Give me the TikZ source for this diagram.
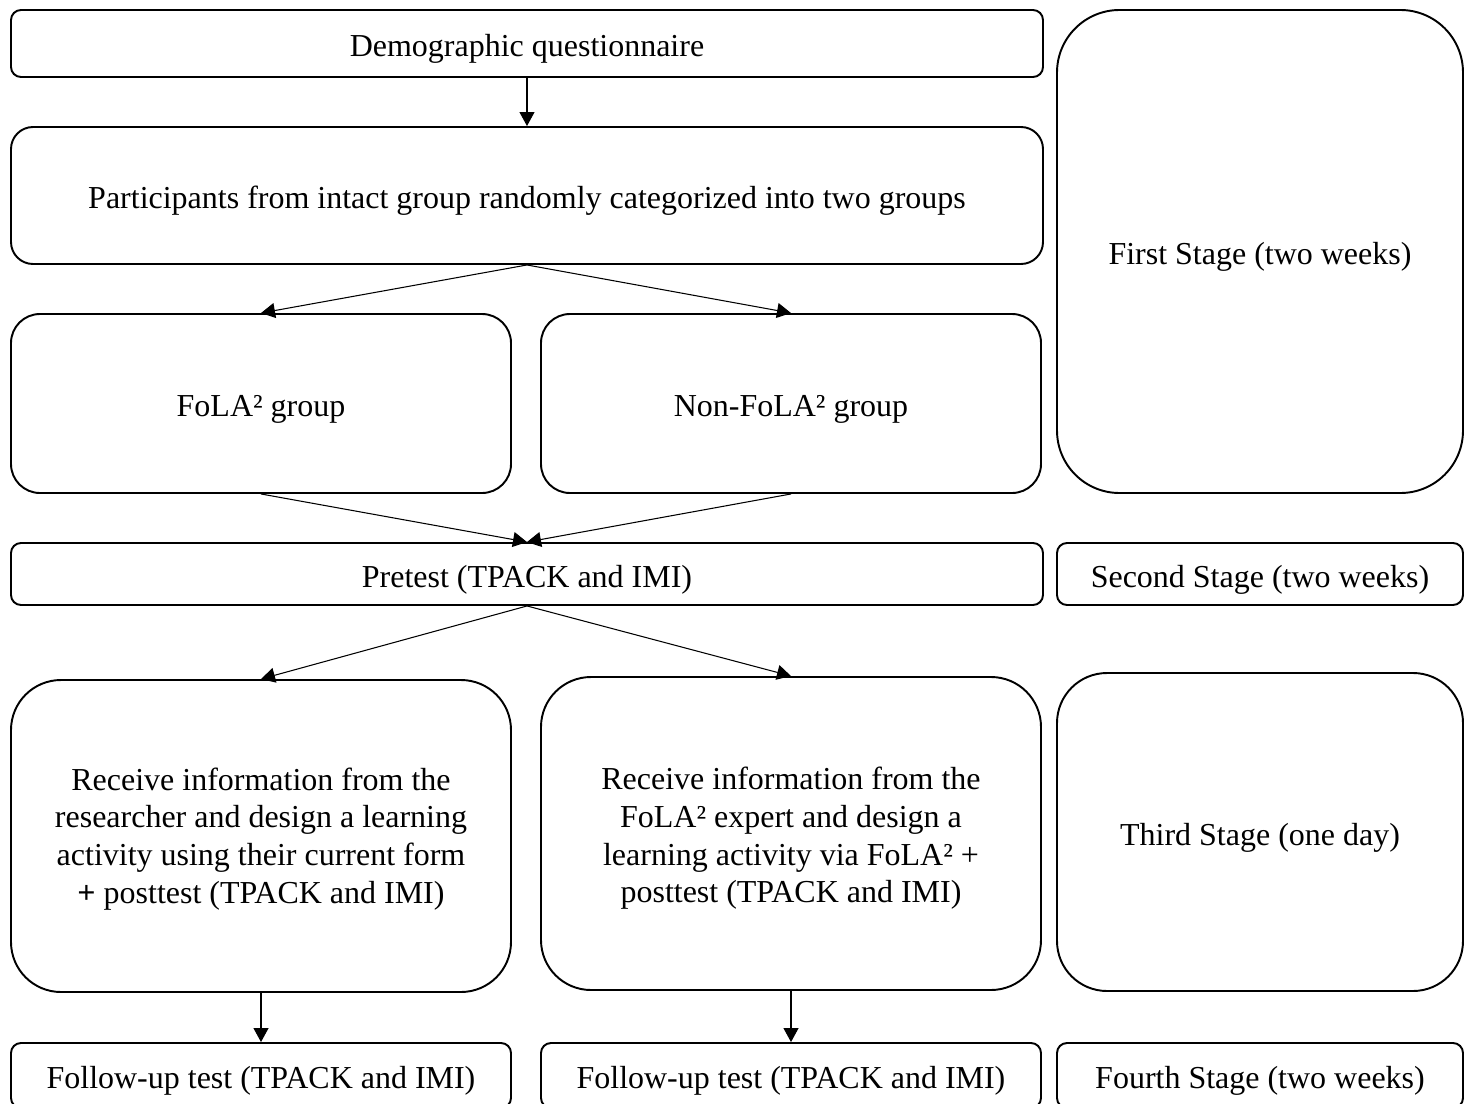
\documentclass[tikz,border=0pt]{standalone}
\usepackage{fontspec}
\setmainfont{Liberation Serif}
\usetikzlibrary{arrows.meta}

\begin{document}
\begin{tikzpicture}[
  stagebox/.style={draw, line width=1.1pt, rounded corners=0.2cm, align=center, inner sep=0pt, font=\fontsize{18.2}{21.4}\selectfont},
  oneline/.style={text height=19pt, text depth=4pt},
  flowarrow/.style={line width=0.6pt, -{Triangle[length=0.28cm,width=0.3cm]}}
]
\useasboundingbox (0,0) rectangle (29.380,-22.080);
\node[stagebox, oneline, minimum width=20.640cm, minimum height=1.340cm] (demog) at (10.540,-0.870) {Demographic questionnaire};
\node[stagebox, oneline, minimum width=20.640cm, minimum height=2.740cm, rounded corners=0.44cm] (split) at (10.540,-3.910) {Participants from intact group randomly categorized into two groups};
\node[stagebox, oneline, minimum width=10.000cm, minimum height=3.580cm, rounded corners=0.58cm] (fola) at (5.220,-8.070) {FoLA² group};
\node[stagebox, oneline, minimum width=10.000cm, minimum height=3.580cm, rounded corners=0.58cm] (nonfola) at (15.820,-8.070) {Non-FoLA² group};
\node[stagebox, oneline, minimum width=20.640cm, minimum height=1.240cm] (pretest) at (10.540,-11.480) {Pretest (TPACK and IMI)};
\node[stagebox, minimum width=10.000cm, minimum height=6.240cm, rounded corners=1.0cm] (designa) at (5.220,-16.720) {\rule{0pt}{16pt}Receive information from the\\researcher and design a learning\\activity using their current form\\\textbf{+} posttest (TPACK and IMI)};
\node[stagebox, minimum width=10.000cm, minimum height=6.260cm, rounded corners=1.0cm] (designb) at (15.820,-16.670) {\rule{0pt}{18.5pt}Receive information from the\\FoLA² expert and design a\\learning activity via FoLA² +\\posttest (TPACK and IMI)};
\node[stagebox, oneline, minimum width=10.000cm, minimum height=1.300cm] (followa) at (5.220,-21.510) {Follow-up test (TPACK and IMI)};
\node[stagebox, oneline, minimum width=10.000cm, minimum height=1.300cm] (followb) at (15.820,-21.510) {Follow-up test (TPACK and IMI)};
\node[stagebox, oneline, minimum width=8.120cm, minimum height=9.660cm, rounded corners=1.25cm] (stagea) at (25.200,-5.030) {First Stage (two weeks)};
\node[stagebox, oneline, minimum width=8.120cm, minimum height=1.240cm] (stageb) at (25.200,-11.480) {Second Stage (two weeks)};
\node[stagebox, oneline, minimum width=8.120cm, minimum height=6.360cm, rounded corners=1.0cm] (stagec) at (25.200,-16.640) {Third Stage (one day)};
\node[stagebox, oneline, minimum width=8.120cm, minimum height=1.300cm] (staged) at (25.200,-21.510) {Fourth Stage (two weeks)};
\draw[flowarrow] (demog.south) -- (split.north);
\draw[flowarrow] (split.south) -- (fola.north);
\draw[flowarrow] (split.south) -- (nonfola.north);
\draw[flowarrow] (fola.south) -- (pretest.north);
\draw[flowarrow] (nonfola.south) -- (pretest.north);
\draw[flowarrow] (pretest.south) -- (designa.north);
\draw[flowarrow] (pretest.south) -- (designb.north);
\draw[flowarrow] (designa.south) -- (followa.north);
\draw[flowarrow] (designb.south) -- (followb.north);
\end{tikzpicture}
\end{document}
